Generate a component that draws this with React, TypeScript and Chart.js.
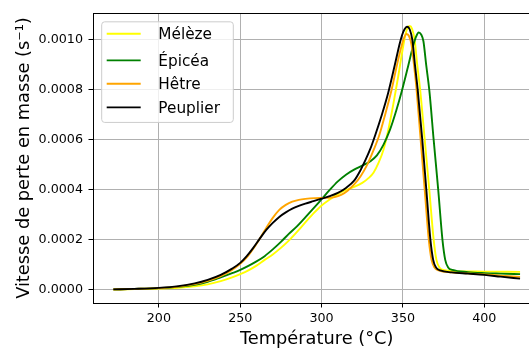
import React, { useEffect, useRef } from "react";
import { Chart, registerables } from "chart.js";

Chart.register(...registerables);

const FONT = "'DejaVu Sans', 'Liberation Sans', sans-serif";

const seriesLabels = ["Mélèze", "Épicéa", "Hêtre", "Peuplier"];
const seriesColors = ["#ffff00", "#008000", "#ffa500", "#000000"];

const xTicks = [200, 250, 300, 350, 400];
const yTicks = [0, 0.0002, 0.0004, 0.0006, 0.0008, 0.001];

const xTitle = "Température (°C)";
const yTitle = "Vitesse de perte en masse (s⁻¹)";

// Mélèze
const melezeT = [172, 185, 200, 212, 222, 230, 238, 245, 250, 255, 260, 265, 270, 275, 280, 286, 290, 295, 300, 305, 310, 315, 320, 325, 329, 332, 335, 338, 341, 344, 347, 349.5, 351.5, 352.9, 354.2, 355.6, 357.2, 358.8, 360.6, 363.4, 366.2, 368.9, 370.6, 372.4, 375.5, 382, 400, 422];
const melezeV = [0.000001, 0.000003, 0.000005, 0.000008, 0.000014, 0.000022, 0.000035, 0.00005, 0.000063, 0.000078, 0.000097, 0.00012, 0.000142, 0.000168, 0.000198, 0.00024, 0.00027, 0.000306, 0.000338, 0.000362, 0.000383, 0.0004, 0.000412, 0.000428, 0.000448, 0.00047, 0.000508, 0.00056, 0.00064, 0.00074, 0.00085, 0.00095, 0.00102, 0.00105, 0.001056, 0.001045, 0.001, 0.0009, 0.0008, 0.0006, 0.0004, 0.0002, 0.00012, 0.00009, 0.000079, 0.000075, 0.000073, 0.000072];

// Épicéa
const epiceaT = [172, 185, 200, 212, 222, 230, 238, 245, 250, 255, 260, 265, 270, 275, 280, 285, 290, 295, 300, 305, 310, 315, 320, 325, 330, 334, 338, 342, 346, 349.5, 353, 356, 358, 359.7, 361.2, 362.6, 364.3, 366.2, 368.9, 371.7, 374.3, 376, 377.8, 380.5, 390, 400, 410, 422];
const epiceaV = [0.000002, 0.000004, 0.000007, 0.000012, 0.00002, 0.000032, 0.00005, 0.000067, 0.00008, 0.000096, 0.000114, 0.000135, 0.000162, 0.000192, 0.000225, 0.000255, 0.00029, 0.000326, 0.000363, 0.0004, 0.000434, 0.000461, 0.000481, 0.000497, 0.000515, 0.000538, 0.00058, 0.00064, 0.00072, 0.0008, 0.00089, 0.00097, 0.001012, 0.00103, 0.001022, 0.000995, 0.0009, 0.0008, 0.0006, 0.0004, 0.0002, 0.00012, 0.00009, 0.00008, 0.000071, 0.000067, 0.000065, 0.000063];

// Hêtre
const hetreT = [172, 185, 200, 212, 222, 230, 238, 245, 250, 254, 258, 262, 266, 270, 274, 278, 282, 286, 290, 296, 303, 308, 312, 316, 320, 324, 328, 332, 335.5, 339, 343, 346, 348.5, 350.5, 352.2, 353.8, 355.3, 356.8, 358.4, 360.9, 363.4, 365.9, 367.6, 369.3, 372, 380, 390, 400, 410, 422];
const hetreV = [0.000002, 0.000004, 0.000007, 0.000013, 0.000023, 0.000036, 0.000055, 0.00008, 0.000104, 0.00013, 0.000165, 0.000205, 0.000248, 0.000288, 0.00032, 0.00034, 0.000353, 0.00036, 0.000364, 0.000367, 0.000368, 0.000371, 0.00038, 0.000397, 0.000422, 0.000455, 0.0005, 0.00056, 0.00062, 0.0007, 0.0008, 0.00089, 0.00096, 0.001005, 0.001024, 0.001015, 0.00098, 0.0009, 0.0008, 0.0006, 0.0004, 0.0002, 0.00012, 0.00009, 0.000078, 0.00007, 0.000066, 0.000062, 0.000057, 0.000052];

// Peuplier
const peuplierT = [172, 185, 200, 212, 222, 230, 238, 245, 250, 254, 258, 262, 266, 270, 274, 278, 282, 286, 290, 295, 300, 305, 310, 315, 320, 324, 327, 330, 333, 337, 341, 345, 348, 349.5, 351, 352.5, 354.2, 355.8, 357.4, 359.1, 361.9, 364.4, 366.9, 368.6, 370.3, 373, 380, 390, 400, 410, 422];
const peuplierV = [0.000002, 0.000004, 0.000008, 0.000015, 0.000026, 0.00004, 0.00006, 0.000085, 0.000108, 0.000135, 0.000168, 0.000205, 0.00024, 0.000268, 0.000292, 0.00031, 0.000325, 0.000336, 0.000345, 0.000355, 0.000365, 0.000375, 0.000388, 0.000408, 0.000437, 0.00048, 0.00052, 0.000565, 0.00062, 0.0007, 0.00079, 0.0009, 0.000985, 0.00102, 0.001043, 0.001053, 0.001042, 0.001, 0.0009, 0.0008, 0.0006, 0.0004, 0.0002, 0.00012, 0.00009, 0.000078, 0.00007, 0.000065, 0.00006, 0.000053, 0.000045];

const seriesT = [melezeT, epiceaT, hetreT, peuplierT];
const seriesV = [melezeV, epiceaV, hetreV, peuplierV];

const toPoints = (t: number[], v: number[]) => t.map((x, i) => ({ x, y: v[i] }));

const framePlugin = {
  id: "frameAndLegend",
  afterDraw(chart: any) {
    const { ctx, chartArea } = chart;
    const { left, right, top } = chartArea;
    ctx.save();
    // top and right spines
    ctx.strokeStyle = "#000";
    ctx.lineWidth = 1;
    ctx.beginPath();
    const ty = Math.round(top) + 0.5;
    ctx.moveTo(left, ty);
    ctx.lineTo(right, ty);
    ctx.lineTo(right, chartArea.bottom);
    ctx.stroke();

    // legend
    const bx = left + 8.7;
    const by = top + 8.7;
    const bw = 131.6;
    const bh = 100.6;
    const r = 3;
    ctx.beginPath();
    ctx.moveTo(bx + r, by);
    ctx.lineTo(bx + bw - r, by);
    ctx.quadraticCurveTo(bx + bw, by, bx + bw, by + r);
    ctx.lineTo(bx + bw, by + bh - r);
    ctx.quadraticCurveTo(bx + bw, by + bh, bx + bw - r, by + bh);
    ctx.lineTo(bx + r, by + bh);
    ctx.quadraticCurveTo(bx, by + bh, bx, by + bh - r);
    ctx.lineTo(bx, by + r);
    ctx.quadraticCurveTo(bx, by, bx + r, by);
    ctx.closePath();
    ctx.fillStyle = "rgba(255,255,255,0.8)";
    ctx.fill();
    ctx.strokeStyle = "#cccccc";
    ctx.lineWidth = 1;
    ctx.stroke();

    const rowOffsets = [12, 38.6, 62, 85.6];
    const fontSize = 15.3;
    ctx.font = `${fontSize}px ${FONT}`;
    ctx.textBaseline = "alphabetic";
    ctx.textAlign = "left";
    chart.data.datasets.forEach((ds: any, i: number) => {
      const y = by + rowOffsets[i];
      ctx.strokeStyle = ds.borderColor;
      ctx.lineWidth = 1.9;
      ctx.beginPath();
      ctx.moveTo(bx + 5, y);
      ctx.lineTo(bx + 39, y);
      ctx.stroke();
      ctx.fillStyle = "#000";
      ctx.fillText(ds.label, bx + 56.6, y + (0.729 * fontSize) / 2);
    });
    ctx.restore();
  },
};

export default function App() {
  const canvasRef = useRef<HTMLCanvasElement | null>(null);

  useEffect(() => {
    const canvas = canvasRef.current;
    if (!canvas) return;
    const datasets = seriesLabels.map((label, i) => ({
      label,
      data: toPoints(seriesT[i], seriesV[i]),
      borderColor: seriesColors[i],
      backgroundColor: seriesColors[i],
      borderWidth: 1.9,
      pointRadius: 0,
      fill: false,
      cubicInterpolationMode: "monotone" as const,
      order: seriesLabels.length - 1 - i,
    }));

    const chart = new Chart(canvas, {
      type: "line",
      data: { datasets },
      plugins: [framePlugin],
      options: {
        responsive: false,
        animation: false,
        events: [],
        layout: { padding: { top: 13, right: 4.6, bottom: 0, left: 0 } },
        plugins: {
          legend: { display: false },
          tooltip: { enabled: false },
        },
        scales: {
          x: {
            type: "linear",
            min: 159.5,
            max: 434.5,
            afterBuildTicks: (s: any) => {
              s.ticks = xTicks.map((v) => ({ value: v }));
            },
            afterFit: (s: any) => {
              s.height = 45;
            },
            ticks: {
              autoSkip: false,
              maxRotation: 0,
              color: "#000",
              padding: 3.6,
              font: { family: FONT, size: 12.7 },
              callback: (v: any) => String(v),
            },
            grid: {
              color: "#b0b0b0",
              lineWidth: 1,
              tickLength: 4.5,
              tickColor: "#000",
              tickWidth: 1,
            },
            border: { display: true, color: "#000", width: 1 },
            title: {
              display: true,
              text: xTitle,
              color: "#000",
              font: { family: FONT, size: 17.8, lineHeight: 1.0 },
              padding: { top: 0, bottom: 0 },
            },
          },
          y: {
            type: "linear",
            min: -0.0000525,
            max: 0.0011075,
            afterBuildTicks: (s: any) => {
              s.ticks = yTicks.map((v) => ({ value: v }));
            },
            afterFit: (s: any) => {
              s.width = 93;
            },
            ticks: {
              autoSkip: false,
              color: "#000",
              padding: 5.5,
              font: { family: FONT, size: 12.7 },
              callback: (v: any) => Number(v).toFixed(4),
            },
            grid: {
              color: "#b0b0b0",
              lineWidth: 1,
              tickLength: 4.5,
              tickColor: "#000",
              tickWidth: 1,
            },
            border: { display: true, color: "#000", width: 1 },
            title: {
              display: true,
              text: yTitle,
              color: "#000",
              font: { family: FONT, size: 17.8, lineHeight: 1.2 },
              padding: { top: 13.3, bottom: 0 },
            },
          },
        },
      },
    } as any);
    return () => chart.destroy();
  }, []);

  return (
    <div
      style={{
        position: "absolute",
        left: 0,
        top: 0,
        width: 529,
        height: 348,
        overflow: "hidden",
        background: "#fff",
      }}
    >
      <canvas ref={canvasRef} width={545} height={348} style={{ display: "block", width: 545, height: 348 }} />
    </div>
  );
}
